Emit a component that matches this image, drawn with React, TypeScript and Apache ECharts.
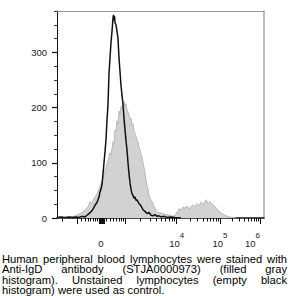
import React, { useEffect, useRef } from "react";
import * as echarts from "echarts";

// Display-scale (biexponential) channel positions and event counts
const grayX = [-44, -38, -33, -30, -27, -24, -21, -18, -15, -13, -11, -9, -7, -5, -3, -1, 1, 3, 5, 7, 9, 10, 12, 13, 14, 15, 16, 17, 18, 19, 20, 21, 22, 23, 24, 25, 26, 27, 28, 29, 30, 31, 32, 33, 34, 35, 36, 37, 38, 39, 40, 41, 42, 43, 44, 45, 46, 47, 48, 49, 51, 53, 55, 57, 60, 63, 66, 69, 72, 74, 76, 77, 78, 80, 82, 84, 86, 88, 90, 92, 94, 96, 98, 100, 102, 104, 105, 107, 109, 111, 113, 115, 117, 119, 121, 123, 125, 128, 131, 135];
const grayY = [0, 0, 1, 2, 3, 5, 8, 10, 17, 20, 29, 27, 36, 41, 47, 58, 66, 78, 92, 104, 118, 114, 138, 135, 160, 156, 176, 170, 194, 188, 202, 198, 208, 211, 203, 207, 196, 192, 186, 178, 181, 168, 171, 158, 153, 148, 141, 138, 128, 123, 116, 110, 100, 92, 80, 70, 58, 52, 42, 36, 30, 21, 14, 10, 9, 7, 6, 5, 3, 5, 11, 8, 17, 14, 20, 18, 22, 16, 21, 24, 20, 26, 22, 29, 24, 30, 33, 26, 30, 25, 22, 19, 14, 11, 8, 6, 4, 2, 1, 0];

const blackX = [-44, -40, -36, -32, -28, -25, -22, -19, -16, -14, -12, -10, -8, -6, -4, -3, -2, -1, 0, 1, 2, 3, 4, 5, 6, 7, 8, 9, 10, 11, 12, 12.5, 13, 13.5, 14, 15, 16, 17, 18, 19, 20, 21, 22, 23, 24, 25, 26, 27, 28, 29, 30, 31, 32, 33, 34, 35, 36, 38, 40, 42, 44, 46, 48, 50, 52, 54, 56, 58, 60, 63, 66, 70, 74, 80];
const blackY = [1, 2, 1, 2, 1, 2, 1, 3, 2, 5, 8, 11, 16, 23, 28, 33, 38, 47, 52, 61, 80, 100, 120, 142, 178, 205, 262, 290, 318, 338, 362, 368, 358, 366, 354, 350, 338, 325, 290, 265, 240, 222, 206, 180, 160, 140, 123, 100, 80, 64, 52, 44, 41, 36, 38, 32, 33, 26, 22, 15, 12, 8, 10, 5, 4, 6, 3, 4, 2, 3, 1, 2, 1, 0];

const xMin = -44;
const xMax = 163;
const yMin = 0;
const yMax = 375;

const yMajorTicks = [0, 100, 200, 300];
const yMinorTicks = [25, 50, 75, 125, 150, 175, 225, 250, 275, 325, 350, 375];
const xMajorTicks = [-23.3, -2, -1, 0, 1, 2, 3, 24, 75.7, 119, 159];
const xMinorTicks = [-39, -19.3, -16, -12.7, -10.3, -7.7, -5.3, -3.3, 5.7, 9, 12.3, 15.7, 18.3, 20.7, 22.3, 39.6, 48.8, 55.3, 60.3, 64.5, 67.9, 71, 73.6, 89, 96.5, 102, 106, 109.5, 112.3, 114.8, 117, 131, 138, 143, 147, 150, 152.8, 155, 157];
const xLabelValues = [0, 75.7, 119, 159];
const xLabelBase = ["0", "10", "10", "10"];
const xLabelExp = ["", "4", "5", "6"];

const captionLines = [
  "Human peripheral blood lymphocytes were stained with",
  "Anti-IgD antibody (STJA0000973) (filled gray",
  "histogram). Unstained lymphocytes (empty black",
  "histogram) were used as control.",
];

const FONT = "'Liberation Sans', Arial, Helvetica, sans-serif";

export default function App() {
  const ref = useRef<HTMLDivElement>(null);

  useEffect(() => {
    if (!ref.current) return;
    const chart = echarts.init(ref.current, undefined, { renderer: "svg" });
    const baseAxis = { type: "value", min: xMin, max: xMax, splitLine: { show: false } };
    const baseY = { type: "value", min: yMin, max: yMax, splitLine: { show: false } };
    chart.setOption({
      animation: false,
      backgroundColor: "#fff",
      grid: { left: 57, right: 24, top: 11, bottom: 32 },
      xAxis: [
        {
          ...baseAxis,
          position: "bottom",
          axisLine: { show: true, onZero: false, lineStyle: { color: "#111", width: 1.5 } },
          axisTick: { show: true, inside: false, length: 6, customValues: xMajorTicks, lineStyle: { color: "#111", width: 1 } },
          axisLabel: {
            show: true,
            customValues: xLabelValues,
            margin: 13,
            formatter: (v: number) => {
              const i = xLabelValues.findIndex((t) => Math.abs(t - v) < 0.01);
              if (i < 0) return "";
              if (!xLabelExp[i]) return `{b|${xLabelBase[i]}}`;
              const pad = i === xLabelValues.length - 1 ? "{g|}" : "";
              return `{b|${xLabelBase[i]}}{s|${xLabelExp[i]}}${pad}`;
            },
            rich: {
              b: { fontSize: 9.5, fontFamily: FONT, color: "#222", lineHeight: 17, verticalAlign: "bottom" },
              s: { fontSize: 8, fontFamily: FONT, color: "#222", lineHeight: 17, verticalAlign: "top" },
              g: { width: 15, lineHeight: 17 },
            },
          },
        },
        {
          ...baseAxis,
          position: "bottom",
          axisLine: { show: false, onZero: false },
          axisTick: { show: true, length: 3.5, customValues: xMinorTicks, lineStyle: { color: "#111", width: 1 } },
          axisLabel: { show: false },
        },
        {
          ...baseAxis,
          position: "top",
          axisLine: { show: true, onZero: false, lineStyle: { color: "#999", width: 1 } },
          axisTick: { show: false },
          axisLabel: { show: false },
        },
      ],
      yAxis: [
        {
          ...baseY,
          position: "left",
          axisLine: { show: true, onZero: false, lineStyle: { color: "#111", width: 1 } },
          axisTick: { show: true, length: 5, customValues: yMajorTicks, lineStyle: { color: "#111", width: 1.2 } },
          axisLabel: {
            show: true,
            customValues: yMajorTicks,
            margin: 10,
            fontSize: 9.5,
            fontFamily: FONT,
            color: "#222",
          },
        },
        {
          ...baseY,
          position: "left",
          axisLine: { show: false, onZero: false },
          axisTick: { show: true, length: 3, customValues: yMinorTicks, lineStyle: { color: "#333", width: 1 } },
          axisLabel: { show: false },
        },
        {
          ...baseY,
          position: "right",
          axisLine: { show: true, onZero: false, lineStyle: { color: "#aaa", width: 1.5 } },
          axisTick: { show: false },
          axisLabel: { show: false },
        },
      ],
      series: [
        {
          name: "Anti-IgD",
          type: "line",
          xAxisIndex: 0,
          yAxisIndex: 0,
          showSymbol: false,
          symbol: "none",
          data: grayX.map((x, i) => [x, grayY[i]]),
          lineStyle: { color: "#b8b8b8", width: 1 },
          areaStyle: { color: "#d2d2d2", opacity: 1 },
          z: 2,
        },
        {
          name: "Unstained",
          type: "line",
          xAxisIndex: 0,
          yAxisIndex: 0,
          showSymbol: false,
          symbol: "none",
          data: blackX.map((x, i) => [x, blackY[i]]),
          lineStyle: { color: "#111", width: 1.5 },
          z: 3,
        },
      ],
    });
    return () => chart.dispose();
  }, []);

  return (
    <div style={{ position: "fixed", left: 0, top: 0, width: 288, height: 296, background: "#fff", overflow: "hidden" }}>
      <div ref={ref} style={{ position: "absolute", left: 0, top: 0, width: 288, height: 250 }} />
      <div
        style={{
          position: "absolute",
          left: 2,
          top: 254,
          width: 285,
          fontFamily: FONT,
          fontSize: 11.2,
          lineHeight: "10.4px",
          color: "#000",
        }}
      >
        {captionLines.map((line, i) => (
          <div
            key={i}
            style={{
              textAlign: "justify",
              textAlignLast: i < captionLines.length - 1 ? "justify" : "left",
              whiteSpace: "nowrap",
            }}
          >
            {line}
          </div>
        ))}
      </div>
    </div>
  );
}
